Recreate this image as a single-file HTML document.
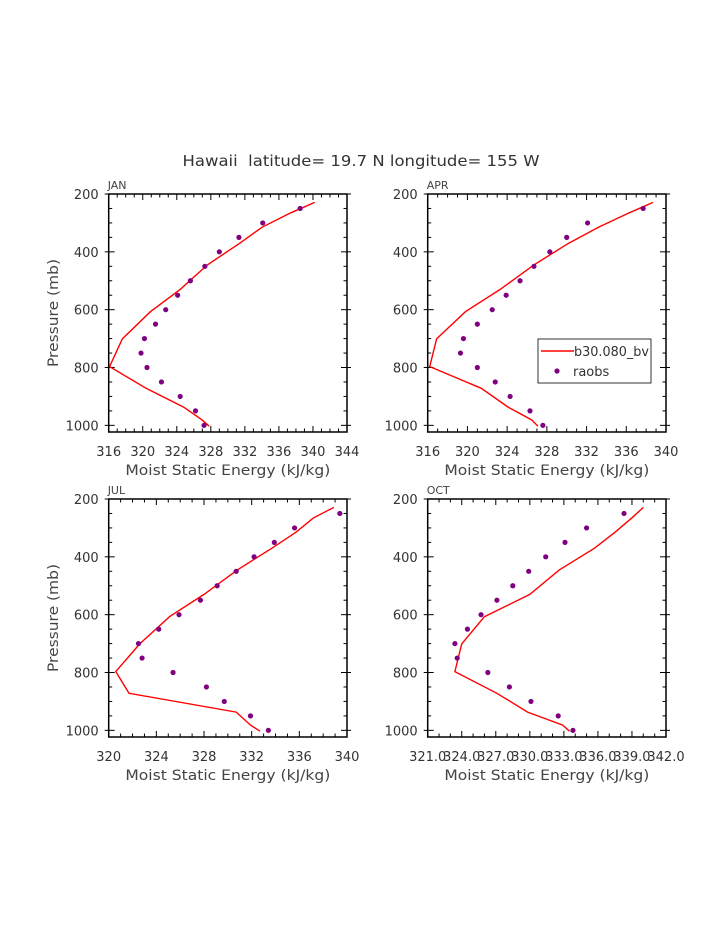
<!DOCTYPE html>
<html><head><meta charset="utf-8"><style>
html,body{margin:0;padding:0;background:#fff;}
svg{display:block;font-family:"DejaVu Sans","Liberation Sans",sans-serif;}
</style></head><body>
<svg id="c" width="723" height="935" xmlns="http://www.w3.org/2000/svg">
<text x="361" y="166" font-size="15" text-anchor="middle" textLength="357" lengthAdjust="spacingAndGlyphs" fill="#333" xml:space="preserve">Hawaii  latitude= 19.7 N longitude= 155 W</text>
</svg>
<script>
// ---- data ----
const dotP = [250,300,350,400,450,500,550,600,650,700,750,800,850,900,950,1000];
const janDots = [338.5,334.1,331.3,329.0,327.3,325.6,324.1,322.7,321.5,320.2,319.8,320.5,322.2,324.4,326.2,327.2];
const aprDots = [337.7,332.1,330.0,328.3,326.7,325.3,323.9,322.5,321.0,319.6,319.3,321.0,322.8,324.3,326.3,327.6];
const julDots = [339.4,335.6,333.9,332.2,330.7,329.1,327.7,325.9,324.2,322.5,322.8,325.4,328.2,329.7,331.9,333.4];
const octDots = [338.3,335.0,333.1,331.4,329.9,328.5,327.1,325.7,324.5,323.4,323.6,326.3,328.2,330.1,332.5,333.8];
const lineP = [229,265,315,370,445,530,607,701,797,872,937,982,1003];
const janLine = [340.2,337.4,334.0,331.4,327.6,324.4,320.9,317.6,316.1,320.4,324.8,327.0,327.8];
const aprLine = [338.7,336.3,333.2,330.2,326.7,323.3,319.8,316.9,316.2,321.4,324.1,326.5,327.1];
const julLine = [338.9,337.2,335.7,333.7,330.8,328.0,325.1,322.6,320.6,321.7,330.7,331.9,332.7];
const octLine = [340.0,339.0,337.5,335.7,332.6,330.0,326.0,324.0,323.4,327.1,329.8,332.9,333.5];
const janTicks = [316,320,324,328,332,336,340,344];
const aprTicks = [316,320,324,328,332,336,340];
const julTicks = [320,324,328,332,336,340];
const octTicks = [321,324,327,330,333,336,339,342];
const pTicks = [200,400,600,800,1000];

const NS='http://www.w3.org/2000/svg';
const svg=document.getElementById('c');
function mk(tag,attrs,parent){const e=document.createElementNS(NS,tag);for(const k in attrs)e.setAttribute(k,attrs[k]);(parent||svg).appendChild(e);return e;}

function panel(cfg){
  const {name,x0,x1,y0,y1,xmin,xmax,ticks,minor,dots,line,showY} = cfg;
  const g=mk('g',{});
  
  
  const pmin=200,pmax=1023;
  const X=v=>x0+(v-xmin)/(xmax-xmin)*(x1-x0);
  const Y=p=>y0+(p-pmin)/(pmax-pmin)*(y1-y0);
  const fr=mk('rect',{x:x0,y:y0,width:x1-x0,height:y1-y0,fill:'none',stroke:'#000','stroke-width':1.5},g);
  
  
  for(let v=xmin; v<=xmax+1e-6; v+=minor){
    const isMaj = ticks.some(t=>Math.abs(t-v)<1e-6);
    const L=isMaj?6:3.5, xx=X(v);
    mk('line',{x1:xx,y1:y1,x2:xx,y2:y1-L,stroke:'#000','stroke-width':1},g);
    mk('line',{x1:xx,y1:y0,x2:xx,y2:y0+L,stroke:'#000','stroke-width':1},g);
  }
  ticks.forEach(t=>{
    const tx=mk('text',{x:X(t),y:y1+24,'font-size':13,'text-anchor':'middle',fill:'#333'},g);
    tx.textContent = (name==='oct')? t+'.0' : t;
    
    
  });
  for(let p=200;p<=1000;p+=50){
    const isMaj=p%200===0, L=isMaj?6:3.5, yy=Y(p);
    mk('line',{x1:x0,y1:yy,x2:x0+L,y2:yy,stroke:'#000','stroke-width':1},g);
    mk('line',{x1:x1,y1:yy,x2:x1-L,y2:yy,stroke:'#000','stroke-width':1},g);
    if(isMaj){
      mk('line',{x1:x0,y1:yy,x2:x0-4,y2:yy,stroke:'#000','stroke-width':1},g);
      mk('line',{x1:x1,y1:yy,x2:x1+4,y2:yy,stroke:'#000','stroke-width':1},g);
    }
  }
  pTicks.forEach(p=>{
    const t=mk('text',{x:x0-10,y:Y(p)+5,'font-size':13,'text-anchor':'end',fill:'#333'},g);
    t.textContent=p;
    
    
  });
  const xt=mk('text',{x:(x0+x1)/2,y:y1+43,'font-size':14,'text-anchor':'middle',fill:'#444',textLength:205,lengthAdjust:'spacingAndGlyphs'},g);
  xt.textContent='Moist Static Energy (kJ/kg)';
  
  
  if(showY){
    const cy=(y0+y1)/2;
    const yt=mk('text',{x:58,y:cy,'font-size':14,'text-anchor':'middle',fill:'#444',textLength:108,lengthAdjust:'spacingAndGlyphs',transform:`rotate(-90 58 ${cy})`},g);
    yt.textContent='Pressure (mb)';
    
    
  }
  const lb=mk('text',{x:x0-1,y:y0-5,'font-size':11,fill:'#444'},g);
  lb.textContent=name.toUpperCase();
  
  
  const pts=line.map((v,i)=>X(v).toFixed(1)+','+Y(lineP[i]).toFixed(1)).join(' ');
  const pl=mk('polyline',{points:pts,fill:'none',stroke:'#ff0000','stroke-width':1.4},g);
  
  
  dots.forEach((v,i)=>{
    const c=mk('circle',{cx:X(v),cy:Y(dotP[i]),r:2.6,fill:'#800080'},g);
    
    
  });
}
panel({name:'jan',x0:108.7,x1:347,y0:194,y1:432,xmin:316,xmax:344,ticks:janTicks,minor:1,dots:janDots,line:janLine,showY:true});
panel({name:'apr',x0:427.7,x1:666,y0:194,y1:432,xmin:316,xmax:340,ticks:aprTicks,minor:1,dots:aprDots,line:aprLine,showY:false});
panel({name:'jul',x0:108.7,x1:347,y0:499,y1:737,xmin:320,xmax:340,ticks:julTicks,minor:1,dots:julDots,line:julLine,showY:true});
panel({name:'oct',x0:427.7,x1:666,y0:499,y1:737,xmin:321,xmax:342,ticks:octTicks,minor:1,dots:octDots,line:octLine,showY:false});

const lg=mk('g',{});


mk('rect',{x:538,y:339,width:113,height:44,fill:'#fff',stroke:'#000','stroke-width':0.8},lg);
mk('line',{x1:541,y1:351,x2:574,y2:351,stroke:'#ff0000','stroke-width':1.4},lg);
const l1=mk('text',{x:574,y:356,'font-size':13,fill:'#333',textLength:75,lengthAdjust:'spacingAndGlyphs'},lg);
l1.textContent='b30.080_bv';


mk('circle',{cx:557,cy:371,r:2.6,fill:'#800080'},lg);
const l2=mk('text',{x:573,y:376,'font-size':13,fill:'#333'},lg);
l2.textContent='raobs';


</script>
</body></html>
